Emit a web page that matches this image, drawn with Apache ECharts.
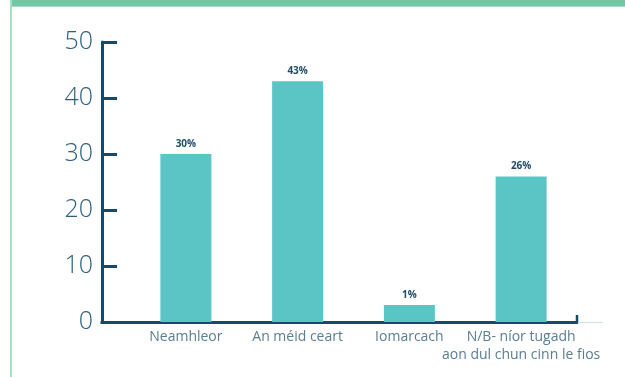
<!DOCTYPE html>
<html>
<head>
<meta charset="utf-8">
<script src="https://cdn.jsdelivr.net/npm/echarts@6/dist/echarts.min.js"></script>
<style>
  html, body { margin: 0; padding: 0; background: #ffffff; }
  #chart { width: 625px; height: 377px; }
</style>
</head>
<body>
<div id="chart"></div>
<script>
// Response categories and their shares (%)
const categories = ['Neamhleor', 'An méid ceart', 'Iomarcach', 'N/B- níor tugadh\naon dul chun cinn le fios'];
const shares = [30, 43, 1, 26];
const yTicks = [0, 10, 20, 30, 40, 50];

const axisDark = '#174a6a';
const barColor = '#5bc5c5';

const chart = echarts.init(document.getElementById('chart'), null, { renderer: 'canvas' });

chart.setOption({
  animation: false,
  grid: { left: 130, right: 48, top: 42, bottom: 55, containLabel: false },
  xAxis: {
    type: 'category',
    data: categories,
    axisLine: { show: true, lineStyle: { color: axisDark, width: 3 } },
    axisTick: { show: false },
    axisLabel: {
      color: '#5a7d90',
      fontFamily: 'Open Sans',
      fontSize: 14,
      lineHeight: 18,
      margin: 6,
      interval: 0
    }
  },
  yAxis: {
    type: 'value',
    min: yTicks[0],
    max: yTicks[yTicks.length - 1],
    interval: 10,
    offset: 28,
    axisLine: { show: true, lineStyle: { color: axisDark, width: 3 } },
    axisTick: { show: true, inside: true, length: 15, lineStyle: { color: axisDark, width: 3 } },
    axisLabel: {
      color: '#2d6080',
      fontFamily: 'Open Sans',
      fontWeight: 300,
      fontSize: 25,
      margin: 9
    },
    splitLine: { show: false }
  },
  series: [{
    type: 'bar',
    data: shares,
    barWidth: 51,
    barMinHeight: 17,
    itemStyle: { color: barColor },
    label: {
      show: true,
      position: 'top',
      distance: 5,
      formatter: '{c}%',
      color: '#1e4a68',
      fontFamily: 'Open Sans',
      fontWeight: 'bold',
      fontSize: 10
    }
  }],
  graphic: [
    // header band and frame
    { type: 'rect', left: 10, top: 0, shape: { width: 615, height: 6 }, style: { fill: '#72c7a5' }, z: 10 },
    { type: 'rect', left: 10, top: 6, shape: { width: 615, height: 1 }, style: { fill: '#a8ddc8' }, z: 10 },
    { type: 'rect', left: 10, top: 0, shape: { width: 2, height: 377 }, style: { fill: '#a8ddc8' }, z: 10 },
    // baseline continuation between the value axis and the first category
    { type: 'line', shape: { x1: 100.5, y1: 322.5, x2: 131, y2: 322.5 }, style: { stroke: axisDark, lineWidth: 3 }, z: 10 },
    // closing tick at the end of the baseline
    { type: 'line', shape: { x1: 577, y1: 323, x2: 577, y2: 315 }, style: { stroke: axisDark, lineWidth: 2.5 }, z: 10 },
    // faint trailing rule
    { type: 'line', shape: { x1: 578, y1: 322.5, x2: 603, y2: 322.5 }, style: { stroke: '#c5e3e8', lineWidth: 1 }, z: 10 }
  ]
});
</script>
</body>
</html>
